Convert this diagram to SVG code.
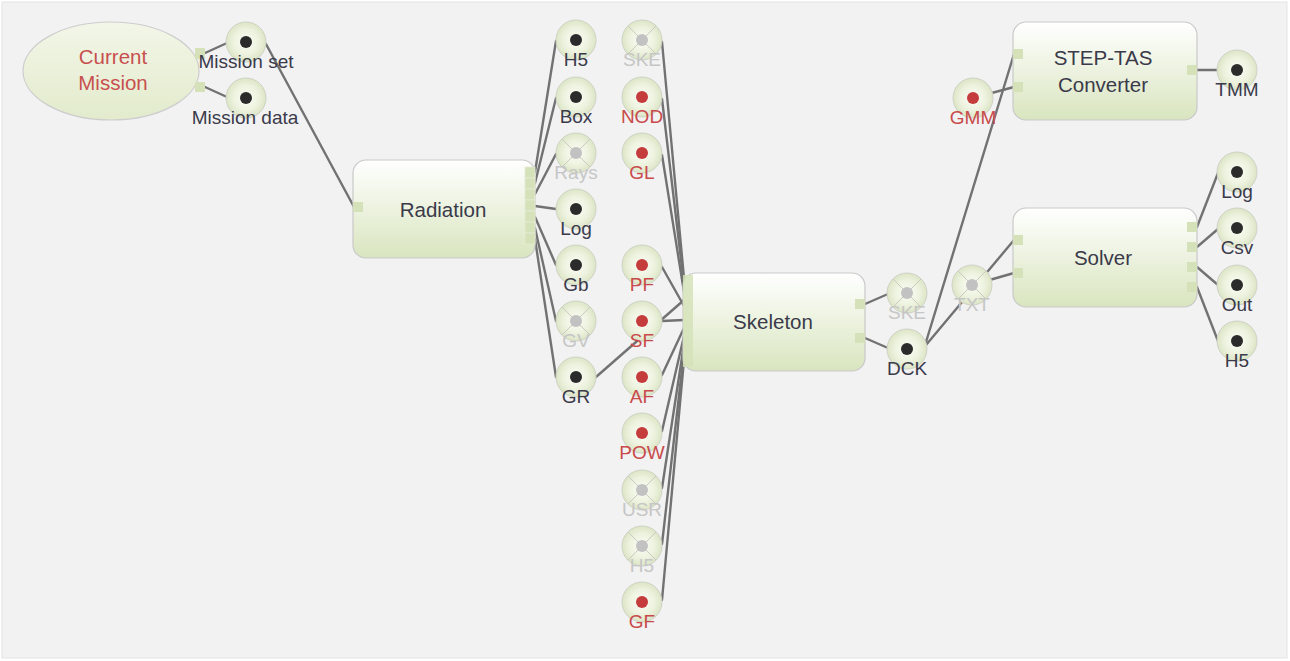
<svg xmlns="http://www.w3.org/2000/svg" width="1290" height="661" viewBox="0 0 1290 661">
<defs>
<linearGradient id="boxg" x1="0" y1="0" x2="0" y2="1">
<stop offset="0" stop-color="#ffffff"/>
<stop offset="1" stop-color="#d9e5bf"/>
</linearGradient>
<linearGradient id="ellg" x1="0" y1="0" x2="0" y2="1">
<stop offset="0" stop-color="#f3f6e8"/>
<stop offset="1" stop-color="#e2ebcc"/>
</linearGradient>
<radialGradient id="cg" cx="0.5" cy="0.5" r="0.5">
<stop offset="0" stop-color="#fbfcf5"/>
<stop offset="0.6" stop-color="#eef3e0"/>
<stop offset="1" stop-color="#dce5c6"/>
</radialGradient>
<style>
.bg{fill:#f2f2f2;stroke:#e4e4e4;stroke-width:1}
.box{fill:url(#boxg);stroke:#c9c9c9;stroke-width:1.2}
.ell{fill:url(#ellg);stroke:#cdcdcd;stroke-width:1.2}
.pt{fill:#d5e2b9}
.strip{fill:#d5e2b9;stroke:#e4ecd4;stroke-width:0.8}
.pc{fill:url(#cg);stroke:#cfd3c6;stroke-width:1}
.x{stroke:#c9cbc2;stroke-width:1;fill:none}
.dk{fill:#2b2b2b}
.rd{fill:#c43c3c}
.gy{fill:#c2c2c2}
.lb{font-family:"Liberation Sans",Arial,sans-serif;font-size:19px;text-anchor:middle}
.nl{font-family:"Liberation Sans",Arial,sans-serif;font-size:20.5px;text-anchor:middle;fill:#3a3a4a}
.dkt{fill:#3a3a4a}
.rdt{fill:#c84a4a}
.gyt{fill:#c6c6c6}
.cn{stroke:#727272;stroke-width:2.4;fill:none;stroke-linecap:round}
</style>
</defs>
<rect x="0" y="0" width="1290" height="661" fill="#ffffff"/>
<rect class="bg" x="2" y="2" width="1285" height="656"/>

<g id="connectors">
<line class="cn" x1="205" y1="53" x2="227" y2="43"/>
<line class="cn" x1="205" y1="87" x2="227" y2="97"/>
<line class="cn" x1="266" y1="44" x2="354" y2="207"/>
<line class="cn" x1="535" y1="172" x2="556" y2="41"/>
<line class="cn" x1="535" y1="183" x2="556" y2="98"/>
<line class="cn" x1="535" y1="194" x2="556" y2="154"/>
<line class="cn" x1="535" y1="206" x2="556" y2="209"/>
<line class="cn" x1="535" y1="217" x2="556" y2="265"/>
<line class="cn" x1="535" y1="228" x2="556" y2="321"/>
<line class="cn" x1="535" y1="239" x2="556" y2="377"/>
<line class="cn" x1="662" y1="42" x2="684" y2="278"/>
<line class="cn" x1="662" y1="99" x2="684" y2="285"/>
<line class="cn" x1="662" y1="155" x2="684" y2="292"/>
<line class="cn" x1="662" y1="267" x2="684" y2="306"/>
<line class="cn" x1="596" y1="377" x2="684" y2="300"/>
<line class="cn" x1="662" y1="321" x2="684" y2="320"/>
<line class="cn" x1="662" y1="375" x2="684" y2="328"/>
<line class="cn" x1="662" y1="431" x2="684" y2="336"/>
<line class="cn" x1="662" y1="488" x2="684" y2="344"/>
<line class="cn" x1="662" y1="544" x2="684" y2="352"/>
<line class="cn" x1="662" y1="600" x2="684" y2="360"/>
<line class="cn" x1="865" y1="304" x2="888" y2="294"/>
<line class="cn" x1="865" y1="338" x2="888" y2="348"/>
<line class="cn" x1="926" y1="342" x2="1014" y2="54"/>
<line class="cn" x1="926" y1="345" x2="1014" y2="240"/>
<line class="cn" x1="972" y1="285" x2="1014" y2="273"/>
<line class="cn" x1="973" y1="98" x2="1014" y2="87"/>
<line class="cn" x1="1197" y1="70" x2="1237" y2="70"/>
<line class="cn" x1="1197" y1="227" x2="1218" y2="173"/>
<line class="cn" x1="1197" y1="247" x2="1218" y2="229"/>
<line class="cn" x1="1197" y1="267" x2="1218" y2="285"/>
<line class="cn" x1="1197" y1="287" x2="1218" y2="341"/>
</g>

<g id="current-mission">
<ellipse class="ell" cx="111" cy="71" rx="88" ry="49"/>
<rect class="pt" x="195" y="48" width="10" height="11"/>
<rect class="pt" x="195" y="82" width="10" height="10"/>
<text class="nl" x="113" y="64" style="fill:#c84f4f">Current</text>
<text class="nl" x="113" y="90" style="fill:#c84f4f">Mission</text>
</g>

<g id="radiation">
<rect class="box" x="353" y="160" width="182" height="98" rx="13"/>
<rect class="pt" x="353" y="202" width="10" height="10"/>
<rect class="strip" x="525" y="167" width="10" height="11"/>
<rect class="strip" x="525" y="178" width="10" height="11"/>
<rect class="strip" x="525" y="189" width="10" height="11"/>
<rect class="strip" x="525" y="200" width="10" height="11"/>
<rect class="strip" x="525" y="211" width="10" height="11"/>
<rect class="strip" x="525" y="222" width="10" height="11"/>
<rect class="strip" x="525" y="233" width="10" height="11"/>
<text class="nl" x="443" y="217">Radiation</text>
</g>

<g id="skeleton">
<rect class="box" x="683" y="273" width="182" height="98" rx="13"/>
<rect class="pt" x="683" y="275" width="10" height="92" opacity="0.85"/>
<rect class="pt" x="855" y="299" width="10" height="10"/>
<rect class="pt" x="855" y="333" width="10" height="10"/>
<text class="nl" x="773" y="329">Skeleton</text>
</g>

<g id="step-tas">
<rect class="box" x="1013" y="22" width="184" height="98" rx="13"/>
<rect class="pt" x="1013" y="49" width="10" height="10"/>
<rect class="pt" x="1013" y="82" width="10" height="10"/>
<rect class="pt" x="1187" y="65" width="10" height="10"/>
<text class="nl" x="1103" y="65">STEP-TAS</text>
<text class="nl" x="1103" y="92">Converter</text>
</g>

<g id="solver">
<rect class="box" x="1013" y="208" width="184" height="99" rx="13"/>
<rect class="pt" x="1013" y="235" width="10" height="10"/>
<rect class="pt" x="1013" y="268" width="10" height="10"/>
<rect class="pt" x="1187" y="222" width="10" height="10"/>
<rect class="pt" x="1187" y="242" width="10" height="10"/>
<rect class="pt" x="1187" y="262" width="10" height="10"/>
<rect class="pt" x="1187" y="282" width="10" height="10"/>
<text class="nl" x="1103" y="265">Solver</text>
</g>

<g id="p-mission-set"><circle class="pc" cx="246" cy="42" r="20"/><circle class="dk" cx="246" cy="42" r="6"/><text class="lb dkt" x="246" y="68">Mission set</text></g>
<g id="p-mission-data"><circle class="pc" cx="246" cy="98" r="20"/><circle class="dk" cx="246" cy="98" r="6"/><text class="lb dkt" x="245" y="124">Mission data</text></g>

<g id="r-h5"><circle class="pc" cx="576" cy="40" r="20"/><circle class="dk" cx="576" cy="40" r="6"/><text class="lb dkt" x="576" y="66">H5</text></g>
<g id="r-box"><circle class="pc" cx="576" cy="97" r="20"/><circle class="dk" cx="576" cy="97" r="6"/><text class="lb dkt" x="576" y="123">Box</text></g>
<g id="r-rays"><circle class="pc" cx="576" cy="153" r="20"/><path class="x" d="M562 139L590 167M590 139L562 167"/><circle class="gy" cx="576" cy="153" r="6"/><text class="lb gyt" x="576" y="179">Rays</text></g>
<g id="r-log"><circle class="pc" cx="576" cy="209" r="20"/><circle class="dk" cx="576" cy="209" r="6"/><text class="lb dkt" x="576" y="235">Log</text></g>
<g id="r-gb"><circle class="pc" cx="576" cy="265" r="20"/><circle class="dk" cx="576" cy="265" r="6"/><text class="lb dkt" x="576" y="291">Gb</text></g>
<g id="r-gv"><circle class="pc" cx="576" cy="321" r="20"/><path class="x" d="M562 307L590 335M590 307L562 335"/><circle class="gy" cx="576" cy="321" r="6"/><text class="lb gyt" x="576" y="347">GV</text></g>
<g id="r-gr"><circle class="pc" cx="576" cy="377" r="20"/><circle class="dk" cx="576" cy="377" r="6"/><text class="lb dkt" x="576" y="403">GR</text></g>

<g id="s-ske"><circle class="pc" cx="642" cy="40" r="20"/><path class="x" d="M628 26L656 54M656 26L628 54"/><circle class="gy" cx="642" cy="40" r="6"/><text class="lb gyt" x="642" y="66">SKE</text></g>
<g id="s-nod"><circle class="pc" cx="642" cy="97" r="20"/><circle class="rd" cx="642" cy="97" r="6"/><text class="lb rdt" x="642" y="123">NOD</text></g>
<g id="s-gl"><circle class="pc" cx="642" cy="153" r="20"/><circle class="rd" cx="642" cy="153" r="6"/><text class="lb rdt" x="642" y="179">GL</text></g>
<g id="s-pf"><circle class="pc" cx="642" cy="265" r="20"/><circle class="rd" cx="642" cy="265" r="6"/><text class="lb rdt" x="642" y="291">PF</text></g>
<g id="s-sf"><circle class="pc" cx="642" cy="321" r="20"/><circle class="rd" cx="642" cy="321" r="6"/><text class="lb rdt" x="642" y="347">SF</text></g>
<g id="s-af"><circle class="pc" cx="642" cy="377" r="20"/><circle class="rd" cx="642" cy="377" r="6"/><text class="lb rdt" x="642" y="403">AF</text></g>
<g id="s-pow"><circle class="pc" cx="642" cy="433" r="20"/><circle class="rd" cx="642" cy="433" r="6"/><text class="lb rdt" x="642" y="459">POW</text></g>
<g id="s-usr"><circle class="pc" cx="642" cy="490" r="20"/><path class="x" d="M628 476L656 504M656 476L628 504"/><circle class="gy" cx="642" cy="490" r="6"/><text class="lb gyt" x="642" y="516">USR</text></g>
<g id="s-h5"><circle class="pc" cx="642" cy="546" r="20"/><path class="x" d="M628 532L656 560M656 532L628 560"/><circle class="gy" cx="642" cy="546" r="6"/><text class="lb gyt" x="642" y="572">H5</text></g>
<g id="s-gf"><circle class="pc" cx="642" cy="602" r="20"/><circle class="rd" cx="642" cy="602" r="6"/><text class="lb rdt" x="642" y="628">GF</text></g>

<g id="k-ske"><circle class="pc" cx="907" cy="293" r="20"/><path class="x" d="M893 279L921 307M921 279L893 307"/><circle class="gy" cx="907" cy="293" r="6"/><text class="lb gyt" x="907" y="319">SKE</text></g>
<g id="k-dck"><circle class="pc" cx="907" cy="349" r="20"/><circle class="dk" cx="907" cy="349" r="6"/><text class="lb dkt" x="907" y="375">DCK</text></g>

<g id="c-gmm"><circle class="pc" cx="973" cy="98" r="20"/><circle class="rd" cx="973" cy="98" r="6"/><text class="lb rdt" x="973" y="124">GMM</text></g>
<g id="c-txt"><circle class="pc" cx="972" cy="285" r="20"/><path class="x" d="M958 271L986 299M986 271L958 299"/><circle class="gy" cx="972" cy="285" r="6"/><text class="lb gyt" x="972" y="311">TXT</text></g>
<g id="c-tmm"><circle class="pc" cx="1237" cy="70" r="20"/><circle class="dk" cx="1237" cy="70" r="6"/><text class="lb dkt" x="1237" y="96">TMM</text></g>

<g id="o-log"><circle class="pc" cx="1237" cy="172" r="20"/><circle class="dk" cx="1237" cy="172" r="6"/><text class="lb dkt" x="1237" y="198">Log</text></g>
<g id="o-csv"><circle class="pc" cx="1237" cy="228" r="20"/><circle class="dk" cx="1237" cy="228" r="6"/><text class="lb dkt" x="1237" y="254">Csv</text></g>
<g id="o-out"><circle class="pc" cx="1237" cy="285" r="20"/><circle class="dk" cx="1237" cy="285" r="6"/><text class="lb dkt" x="1237" y="311">Out</text></g>
<g id="o-h5"><circle class="pc" cx="1237" cy="341" r="20"/><circle class="dk" cx="1237" cy="341" r="6"/><text class="lb dkt" x="1237" y="367">H5</text></g>
</svg>
